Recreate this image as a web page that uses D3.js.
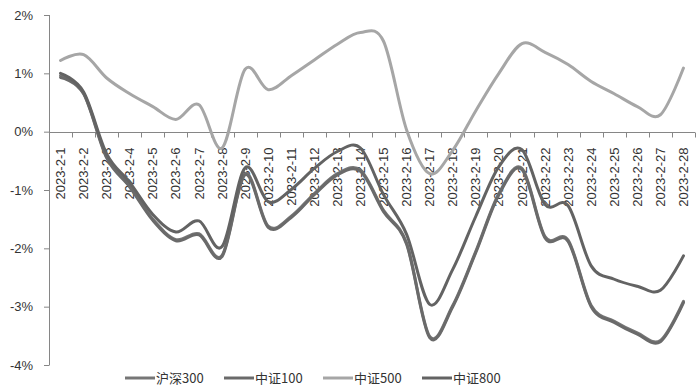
<!DOCTYPE html>
<html><head><meta charset="utf-8">
<script src="https://cdn.jsdelivr.net/npm/d3@7"></script>
<style>
html,body{margin:0;padding:0;background:#fff;}
svg{display:block;}
</style></head>
<body>
<svg id="chart" width="700" height="388"></svg>
<script>
const dates = ["2023-2-1","2023-2-2","2023-2-3","2023-2-4","2023-2-5","2023-2-6","2023-2-7","2023-2-8","2023-2-9","2023-2-10","2023-2-11","2023-2-12","2023-2-13","2023-2-14","2023-2-15","2023-2-16","2023-2-17","2023-2-18","2023-2-19","2023-2-20","2023-2-21","2023-2-22","2023-2-23","2023-2-24","2023-2-25","2023-2-26","2023-2-27","2023-2-28"];
const hs300  = [0.96,0.66,-0.43,-0.93,-1.50,-1.85,-1.75,-2.12,-0.72,-1.62,-1.45,-1.06,-0.72,-0.66,-1.35,-1.91,-3.51,-2.98,-2.05,-1.06,-0.63,-1.80,-1.86,-2.98,-3.25,-3.45,-3.58,-2.91];
const zz100  = [0.93,0.65,-0.45,-0.95,-1.52,-1.87,-1.77,-2.14,-0.74,-1.64,-1.47,-1.08,-0.74,-0.68,-1.37,-1.93,-3.53,-3.00,-2.07,-1.08,-0.65,-1.82,-1.88,-3.00,-3.27,-3.47,-3.60,-2.93];
const zz500  = [1.22,1.32,0.92,0.65,0.43,0.21,0.46,-0.28,1.07,0.72,0.96,1.23,1.50,1.70,1.55,0.03,-0.72,-0.32,0.36,1.00,1.51,1.36,1.15,0.86,0.65,0.43,0.29,1.09];
const zz800  = [1.00,0.68,-0.38,-0.87,-1.42,-1.72,-1.53,-1.97,-0.62,-1.20,-0.99,-0.63,-0.34,-0.28,-1.08,-1.76,-2.96,-2.36,-1.45,-0.60,-0.31,-1.25,-1.27,-2.30,-2.53,-2.65,-2.72,-2.13];
const yTicks = [2,1,0,-1,-2,-3,-4];
const seriesNames = ["沪深300","中证100","中证500","中证800"];
const seriesColors = ["#767676","#6a6a6a","#a6a6a6","#636363"];
const seriesValues = [hs300, zz100, zz500, zz800];

const svg = d3.select("#chart");
const fontNum = "'Liberation Sans', Arial, 'Noto Sans CJK SC', sans-serif";
const fontCJK = "'Noto Sans CJK SC', 'Liberation Sans', sans-serif";

const x = d3.scaleBand().domain(dates).range([49, 695]).padding(0);
const y = d3.scaleLinear().domain([-4, 2]).range([365, 15]);

// y axis
const yAxis = d3.axisLeft(y).tickValues(yTicks).tickSize(5).tickFormat(d => d + "%");
const gy = svg.append("g").attr("transform", "translate(49,0)").call(yAxis);
gy.select(".domain").attr("stroke", "#868686").attr("d", "M0.5,15V365.5");
gy.selectAll(".tick line").attr("stroke", "#868686");
gy.selectAll(".tick text").attr("font-family", fontNum).attr("font-size", 13).attr("fill", "#333").attr("x", -16);

// x axis at 0
const gx = svg.append("g").attr("transform", `translate(0,${Math.round(y(0))+0.5})`);
gx.append("line").attr("x1", 49).attr("x2", 695).attr("stroke", "#868686");
const bounds = dates.map(d => x(d)).concat([x.range()[1]]);
gx.selectAll("line.tk").data(bounds).join("line").attr("class","tk")
  .attr("x1", d => Math.round(d)+0.5).attr("x2", d => Math.round(d)+0.5)
  .attr("y1", 0).attr("y2", 5).attr("stroke", "#868686");
gx.selectAll("text").data(dates).join("text")
  .attr("transform", d => `translate(${x(d) + x.bandwidth()/2},15) rotate(-90)`)
  .attr("text-anchor", "end").attr("dy", "0.35em")
  .attr("font-family", fontNum).attr("font-size", 13).attr("fill", "#333")
  .text(d => d);

// lines
const line = d3.line()
  .x((d, i) => x(dates[i]) + x.bandwidth()/2)
  .y(d => y(d))
  .curve(d3.curveCardinal.tension(0));
const order = [2, 0, 1, 3];
order.forEach(k => {
  svg.append("path").datum(seriesValues[k])
    .attr("d", line).attr("fill", "none")
    .attr("stroke", seriesColors[k]).attr("stroke-width", 3)
    .attr("stroke-linejoin", "round").attr("stroke-linecap", "round");
});

// legend
const lg = svg.append("g");
seriesNames.forEach((n, i) => {
  const gx0 = 125 + i * 99;
  lg.append("line").attr("x1", gx0).attr("x2", gx0 + 30).attr("y1", 378).attr("y2", 378)
    .attr("stroke", seriesColors[i]).attr("stroke-width", 3);
  lg.append("text").attr("x", gx0 + 31).attr("y", 378).attr("dy", "0.36em")
    .attr("font-family", fontCJK).attr("font-size", 13).attr("fill", "#333").text(n);
});
</script>
</body></html>
